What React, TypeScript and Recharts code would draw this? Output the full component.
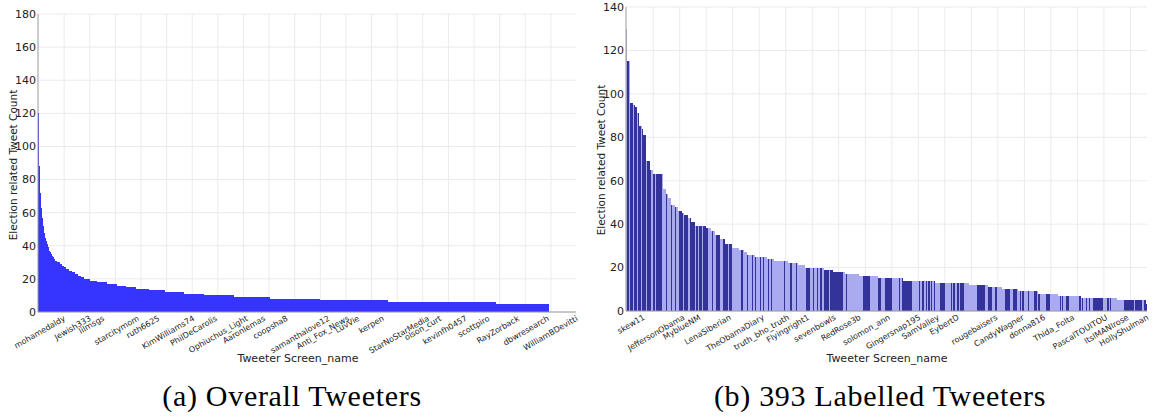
import React from 'react';
import { BarChart, Bar, XAxis, YAxis, CartesianGrid } from 'recharts';

// ---------- (a) Overall Tweeters ----------
// individual leading values (steep head of the distribution)
const overallHeadValues = [
  120, 88, 72, 63, 57, 52, 48, 45, 43, 41,
  39, 37, 36, 35, 34, 33, 32, 31, 31, 30,
  30, 29, 29, 28, 28, 27, 27, 26, 26, 26,
  25, 25, 25, 24, 24, 24, 23, 23, 23, 22,
  22, 22, 21, 21, 21,
];
// flat steps of the tail: value and number of tweeters with that value
const overallRunValues = [20, 19, 18, 17, 16, 15, 14, 13, 12, 11, 10, 9, 8, 7, 6, 5];
const overallRunCounts = [6, 7, 9, 10, 9, 10, 12, 16, 18, 20, 29, 35, 49, 67, 105, 52];
const overallCategoryCount = 525;
const overallLabels = [
  'mohamedaldy', 'Jewish333', 'lilmsgs', 'starcitymom', 'ruth6625', 'KimWilliams74',
  'PhilDeCarolis', 'Ophiuchus_Light', 'Aaronlemas', 'coopsha8', 'samanthalove12',
  'Anti_Fox_News', 'LuvVie', 'kerpen', 'StarNoStarMedia', 'olson_curt', 'kevinfh0457',
  'scottpiro', 'RayZorback', 'dbwresearch', 'WilliamBDevitti',
];
const overallLabelRanks = [24, 49, 62, 96, 116, 150, 172, 202, 219, 241, 282, 301, 311, 335, 379, 391, 416, 438, 467, 496, 524];
const overallYTicks = [0, 20, 40, 60, 80, 100, 120, 140, 160, 180];

// ---------- (b) 393 Labelled Tweeters ----------
const labeledRunValues = [
  130, 115, 96, 95, 94, 91, 85, 84, 81, 69, 65, 63,
  56, 54, 52, 49, 48, 46, 45, 44, 43, 41,
  39, 38, 37, 35, 33, 31, 29, 28, 27,
  26, 25,
  24, 23, 22, 21, 20, 19, 18, 17, 16, 15, 14, 13, 12, 11, 10, 9, 8, 7, 6, 5, 3,
];
const labeledRunCounts = [
  1, 2, 2, 2, 1, 2, 2, 1, 2, 3, 2, 8,
  2, 2, 2, 3, 2, 3, 2, 3, 2, 3,
  8, 4, 3, 4, 4, 5, 5, 4, 2,
  6, 9,
  6, 10, 8, 5, 14, 7, 9, 11, 14, 19, 24, 26, 14, 11, 12, 15, 15, 17, 27, 22, 1,
];
// class of each tweeter in rank order: D = dark class, L = light class
const labeledClasses = [
  'LDLDDLDDLD', 'DLDDDLDDDL', 'DDLDDDDLLL', 'DLLLDLLDLL', 'DDDLDDDLDD',
  'DDLDLDDLDD', 'DDLLLDLLDD', 'DLLDDDDLDD', 'LLLLLLLDLL', 'LDLLLDLDLL',
  'LDLDLLLDLD', 'LLLLLLLLLD', 'LLLLDLLLDL', 'LLLLLLDDDL', 'LDLLDLDDLD',
  'DDDLDDDDDD', 'DDDDLLDLLL', 'LLLLLLLLLD', 'DDDDLLLLLL', 'DDLLLDDDDD',
  'DLLLLLDLDD', 'DDDDDDLLLL', 'LDLDDLDLDL', 'DLDLLLLDDD', 'DLLLLDLDLL',
  'DLDDDLLLLL', 'LLLLLDDDDD', 'DLLDDDLLDD', 'LLLLLLDDDD', 'LLDDDLLDLD',
  'LLLDLLLLDD', 'LDLLLLLDDD', 'LLLLLLLDLD', 'LLDDLLLLLL', 'LLDLDLLDLD',
  'LLDDDDDDDD', 'LLLDLDLLLL', 'LLLLLLDDDD', 'DDDLDDDDDL', 'LDD',
].join('');
const labeledLabels = [
  'skew11', 'JeffersonObama', 'MyblueNM', 'LenaSiberian', 'TheObamaDiary', 'truth_bho_truth',
  'Flyingright1', 'sevenbowls', 'RedRose3b', 'solomon_ann', 'Gingersnap195', 'SamValley',
  'EybertD', 'rougebaisers', 'CandyWagner', 'donna816', 'Thida_Folta', 'PascalTOUITOU',
  'ItsIMANIrose', 'HollyShulman',
];
const labeledLabelRanks = [12, 42, 54, 77, 102, 121, 136, 156, 175, 197, 220, 234, 249, 278, 298, 314, 336, 361, 377, 392];
const labeledYTicks = [0, 20, 40, 60, 80, 100, 120, 140];

// ---------- build tables ----------
function expandRuns(values: number[], counts: number[]): number[] {
  const out: number[] = [];
  values.forEach((v, i) => {
    for (let k = 0; k < counts[i]; k++) out.push(v);
  });
  return out;
}

const overallValues = [...overallHeadValues, ...expandRuns(overallRunValues, overallRunCounts)];
const overallData = Array.from({ length: overallCategoryCount }, (_, i) => {
  const li = overallLabelRanks.indexOf(i);
  return { name: li >= 0 ? overallLabels[li] : `u${i}`, v: i < overallValues.length ? overallValues[i] : null };
});
const overallGridValues = overallData.filter((_, i) => i > 0 && i % 25 === 0).map((d) => d.name);

const labeledValues = expandRuns(labeledRunValues, labeledRunCounts);
const labeledData = labeledValues.map((v, i) => {
  const li = labeledLabelRanks.indexOf(i);
  return { name: li >= 0 ? labeledLabels[li] : `r${i}`, v, cls: labeledClasses[i] };
});
const labeledGridValues = labeledData.filter((_, i) => i > 0 && i % 20 === 0).map((d) => d.name);

// ---------- layout & styling ----------
const FRAME = '#9a9a9a';
const GRID = '#ebebeb';
const BLUE = '#3535ff';
const DARK = '#333399';
const LIGHT = '#aaaaf0';
const SANS = 'DejaVu Sans';

const LEFT_W = 600;
const LEFT_MARGIN = { top: 14, right: 24, bottom: 6, left: 8 };
const RIGHT_W = 577;
const RIGHT_MARGIN = { top: 7, right: 10, bottom: 7, left: 16 };
const Y_AXIS_W = 30;
// bars fill their whole category band (no gap between neighbours)
const leftBand = (LEFT_W - LEFT_MARGIN.left - LEFT_MARGIN.right - Y_AXIS_W) / overallCategoryCount;
const rightBand = (RIGHT_W - RIGHT_MARGIN.left - RIGHT_MARGIN.right - Y_AXIS_W) / labeledData.length;

function AngledTick(props: any) {
  const { x, y, payload } = props;
  return (
    <text
      x={x}
      y={y}
      transform={`rotate(-30 ${x} ${y})`}
      textAnchor="end"
      dy="0.72em"
      fontSize={8}
      fontFamily={SANS}
      fill="#222"
    >
      {payload.value}
    </text>
  );
}

function CrispBar(props: any) {
  const { x, y, width, height, fill, payload } = props;
  if (!(height > 0) || !(width > 0)) return <g />;
  const color = payload && payload.cls ? (payload.cls === 'D' ? DARK : LIGHT) : fill;
  return <rect x={x} y={y} width={width} height={height} fill={color} shapeRendering="crispEdges" />;
}

const abs = (left: number, top: number, extra: React.CSSProperties = {}): React.CSSProperties => ({
  position: 'absolute',
  left,
  top,
  transform: 'translate(-50%, -50%)',
  whiteSpace: 'nowrap',
  lineHeight: 1,
  ...extra,
});

export default function App() {
  const yTick = { fontSize: 11, fill: '#222', fontFamily: SANS };
  return (
    <div style={{ position: 'absolute', left: 0, top: 0, width: 1157, height: 417, background: '#fff', overflow: 'hidden' }}>
      <div style={{ position: 'absolute', left: 0, top: 0 }}>
        <BarChart width={LEFT_W} height={370} data={overallData} margin={LEFT_MARGIN} style={{ fontFamily: SANS }}>
          <CartesianGrid stroke={GRID} verticalValues={overallGridValues} />
          <XAxis
            dataKey="name"
            type="category"
            ticks={overallLabels}
            interval={0}
            tick={<AngledTick />}
            tickLine={false}
            tickSize={0}
            tickMargin={3}
            height={52}
            axisLine={{ stroke: FRAME }}
          />
          <XAxis xAxisId="top" dataKey="name" orientation="top" height={0} tick={false} tickLine={false} axisLine={{ stroke: FRAME }} />
          <YAxis
            domain={[0, 180]}
            ticks={overallYTicks}
            width={Y_AXIS_W}
            tick={yTick}
            tickLine={false}
            tickSize={0}
            tickMargin={2}
            axisLine={{ stroke: FRAME }}
          />
          <YAxis yAxisId="right" orientation="right" domain={[0, 180]} width={0} tick={false} tickLine={false} axisLine={{ stroke: FRAME }} />
          <Bar dataKey="v" fill={BLUE} barSize={leftBand * 0.9999} isAnimationActive={false} shape={<CrispBar />} />
        </BarChart>
      </div>

      <div style={{ position: 'absolute', left: 580, top: 0 }}>
        <BarChart width={RIGHT_W} height={370} data={labeledData} margin={RIGHT_MARGIN} style={{ fontFamily: SANS }}>
          <CartesianGrid stroke={GRID} verticalValues={labeledGridValues} />
          <XAxis
            dataKey="name"
            type="category"
            ticks={labeledLabels}
            interval={0}
            tick={<AngledTick />}
            tickLine={false}
            tickSize={0}
            tickMargin={3}
            height={52}
            axisLine={{ stroke: FRAME }}
          />
          <XAxis xAxisId="top" dataKey="name" orientation="top" height={0} tick={false} tickLine={false} axisLine={{ stroke: FRAME }} />
          <YAxis
            domain={[0, 140]}
            ticks={labeledYTicks}
            width={Y_AXIS_W}
            tick={yTick}
            tickLine={false}
            tickSize={0}
            tickMargin={2}
            axisLine={{ stroke: FRAME }}
          />
          <YAxis yAxisId="right" orientation="right" domain={[0, 140]} width={0} tick={false} tickLine={false} axisLine={{ stroke: FRAME }} />
          <Bar dataKey="v" fill={DARK} barSize={rightBand * 0.9999} isAnimationActive={false} shape={<CrispBar />} />
        </BarChart>
      </div>

      <div style={abs(13, 165, { transform: 'translate(-50%, -50%) rotate(-90deg)', fontFamily: SANS, fontSize: 10.5, color: '#222' })}>
        Election related Tweet Count
      </div>
      <div style={abs(601, 160, { transform: 'translate(-50%, -50%) rotate(-90deg)', fontFamily: SANS, fontSize: 10.5, color: '#222' })}>
        Election related Tweet Count
      </div>
      <div style={abs(298, 358, { fontFamily: SANS, fontSize: 11, color: '#222' })}>Tweeter Screen_name</div>
      <div style={abs(887, 358, { fontFamily: SANS, fontSize: 11, color: '#222' })}>Tweeter Screen_name</div>

      <div style={abs(292, 396, { fontFamily: 'Liberation Serif', fontSize: 30, letterSpacing: 0.7, color: '#000' })}>
        (a) Overall Tweeters
      </div>
      <div style={abs(880, 396, { fontFamily: 'Liberation Serif', fontSize: 30, letterSpacing: 0.7, color: '#000' })}>
        (b) 393 Labelled Tweeters
      </div>
    </div>
  );
}
